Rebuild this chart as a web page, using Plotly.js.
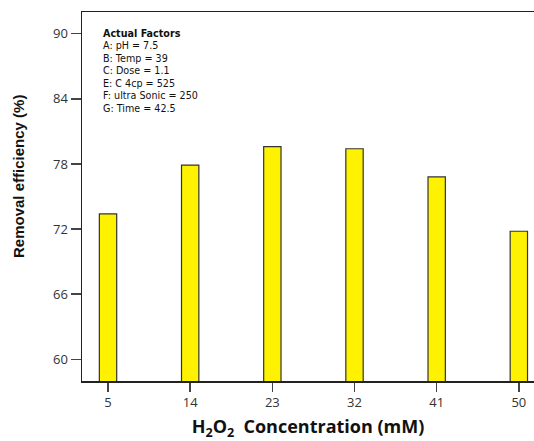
<!DOCTYPE html>
<html>
<head>
<meta charset="utf-8">
<script src="https://cdn.plot.ly/plotly-3.0.1.min.js"></script>
<style>html,body{margin:0;padding:0;background:#fff;overflow:hidden}</style>
</head>
<body>
<div id="chart" style="width:534px;height:441px"></div>
<script>
var concentrations = [5, 14, 23, 32, 41, 50];
var efficiency = [73.4, 77.9, 79.6, 79.4, 76.8, 71.8];
var yTicks = [60, 66, 72, 78, 84, 90];
var factorTitle = "Actual Factors";
var factorLines = ["A: pH = 7.5", "B: Temp = 39", "C: Dose = 1.1", "E: C 4cp = 525", "F: ultra Sonic = 250", "G: Time = 42.5"];

var trace = {
  type: 'bar',
  x: concentrations,
  y: efficiency,
  width: 1.9,
  marker: {color: '#FFF200', line: {color: '#333333', width: 1.2}},
  hoverinfo: 'x+y'
};

var plotTop = 12, plotBottom = 381;
function paperY(py) { return (plotBottom - py) / (plotBottom - plotTop); }

var annotations = [{
  xref: 'paper', yref: 'paper',
  x: 0.044, y: paperY(27), xanchor: 'left', yanchor: 'top', align: 'left',
  showarrow: false, borderpad: 0,
  text: '<b>' + factorTitle + '</b><br>' + factorLines.join('<br>'),
  font: {family: 'DejaVu Sans, sans-serif', size: 9.6, color: '#111'}
}, {
  xref: 'paper', yref: 'paper',
  x: -64 / 452, y: paperY(177), xanchor: 'center', yanchor: 'middle',
  textangle: -90, showarrow: false,
  text: '<b>Removal efficiency (%)</b>',
  font: {family: 'Liberation Sans Narrow, Arial Narrow, Liberation Sans, sans-serif', size: 15, color: '#111'}
}];

var layout = {
  width: 534, height: 441,
  margin: {l: 82, r: 0, t: plotTop, b: 441 - plotBottom},
  paper_bgcolor: '#ffffff', plot_bgcolor: '#ffffff',
  showlegend: false,
  xaxis: {
    range: [2.15, 51.66],
    tickvals: concentrations,
    ticktext: concentrations.map(String),
    ticks: 'outside', ticklen: 9, tickwidth: 1.5, tickcolor: '#444',
    showline: true, linecolor: '#222', linewidth: 1.5, mirror: true,
    showgrid: false, zeroline: false,
    tickfont: {family: 'Open Sans, sans-serif', size: 13, color: '#333'},
    title: {text: '<b>H<sub>2</sub>O<sub>2</sub>  Concentration (mM)</b>', font: {family: 'Open Sans, sans-serif', size: 18, color: '#111'}, standoff: 18}
  },
  yaxis: {
    range: [58, 92],
    tickvals: yTicks,
    ticks: 'outside', ticklen: 10, tickwidth: 1.5, tickcolor: '#444',
    showline: true, linecolor: '#222', linewidth: 1.5,
    showgrid: false, zeroline: false,
    tickfont: {family: 'Open Sans, sans-serif', size: 13, color: '#333'}
  },
  annotations: annotations
};

Plotly.newPlot('chart', [trace], layout, {displayModeBar: false, staticPlot: true});
</script>
</body>
</html>
